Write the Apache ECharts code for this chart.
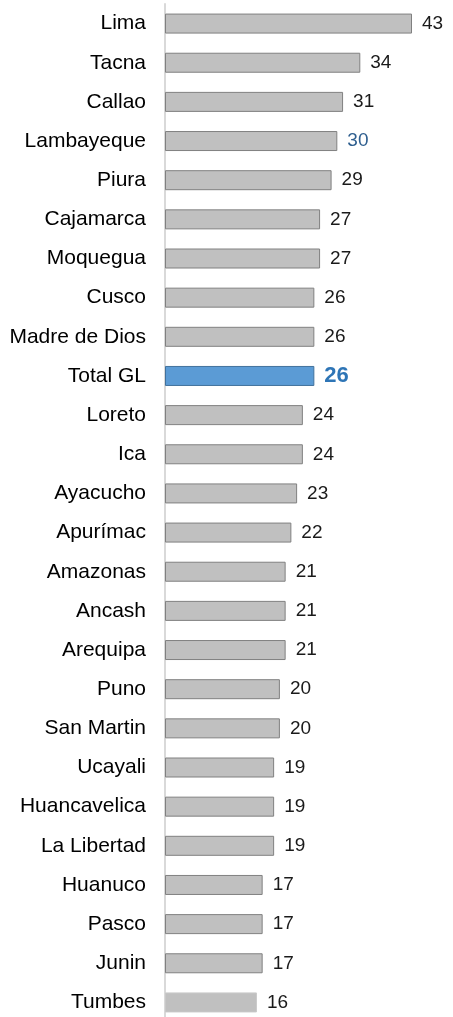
<!DOCTYPE html>
<html>
<head>
<meta charset="utf-8">
<script src="https://cdn.jsdelivr.net/npm/echarts@6/dist/echarts.min.js"></script>
<style>
  html, body { margin: 0; padding: 0; background: #fff; }
  #chart { width: 453px; height: 1017px; }
</style>
</head>
<body>
<div id="chart"></div>
<script>
// Regions ranked by score, top to bottom
const regions = [
  'Lima', 'Tacna', 'Callao', 'Lambayeque', 'Piura', 'Cajamarca', 'Moquegua',
  'Cusco', 'Madre de Dios', 'Total GL', 'Loreto', 'Ica', 'Ayacucho', 'Apurímac',
  'Amazonas', 'Ancash', 'Arequipa', 'Puno', 'San Martin', 'Ucayali',
  'Huancavelica', 'La Libertad', 'Huanuco', 'Pasco', 'Junin', 'Tumbes'
];
const scores = [
  43, 34, 31, 30, 29, 27, 27,
  26, 26, 26, 24, 24, 23, 22,
  21, 21, 21, 20, 20, 19,
  19, 19, 17, 17, 17, 16
];

const totalName = 'Total GL';
const accentName = 'Lambayeque';
const FONT = '"Liberation Sans", Arial, Helvetica, sans-serif';

const data = regions.map((name, i) => {
  const item = { value: scores[i] };
  if (name === totalName) {
    item.itemStyle = { color: '#5b9bd5', borderColor: '#41719c', borderWidth: 1 };
    item.label = { color: '#2e75b6', fontWeight: 'bold', fontSize: 22 };
  } else if (name === accentName) {
    item.label = { color: '#2f5f8f' };
  } else if (i === regions.length - 1) {
    item.itemStyle = { color: '#c0c0c0', borderColor: '#c8c8c8', borderWidth: 1 };
  }
  return item;
});

const chart = echarts.init(document.getElementById('chart'), null, { renderer: 'canvas' });
chart.setOption({
  animation: false,
  backgroundColor: '#ffffff',
  textStyle: { fontFamily: FONT },
  grid: {
    left: 165, width: 247, top: 4, height: 1018,
    containLabel: false,
    outerBoundsMode: 'none'
  },
  xAxis: {
    type: 'value',
    min: 0,
    max: 43,
    show: false
  },
  yAxis: {
    type: 'category',
    data: regions,
    inverse: true,
    axisLine: { show: true, lineStyle: { color: '#d9d9d9', width: 2 } },
    axisTick: { show: false },
    axisLabel: {
      margin: 19,
      fontSize: 21,
      color: '#000000',
      fontFamily: FONT
    }
  },
  series: [{
    type: 'bar',
    data: data,
    barWidth: 20,
    itemStyle: { color: '#c0c0c0', borderColor: '#808080', borderWidth: 1 },
    label: {
      show: true,
      position: 'right',
      distance: 10,
      fontSize: 19,
      color: '#1a1a1a',
      fontFamily: FONT
    }
  }]
});
</script>
</body>
</html>
